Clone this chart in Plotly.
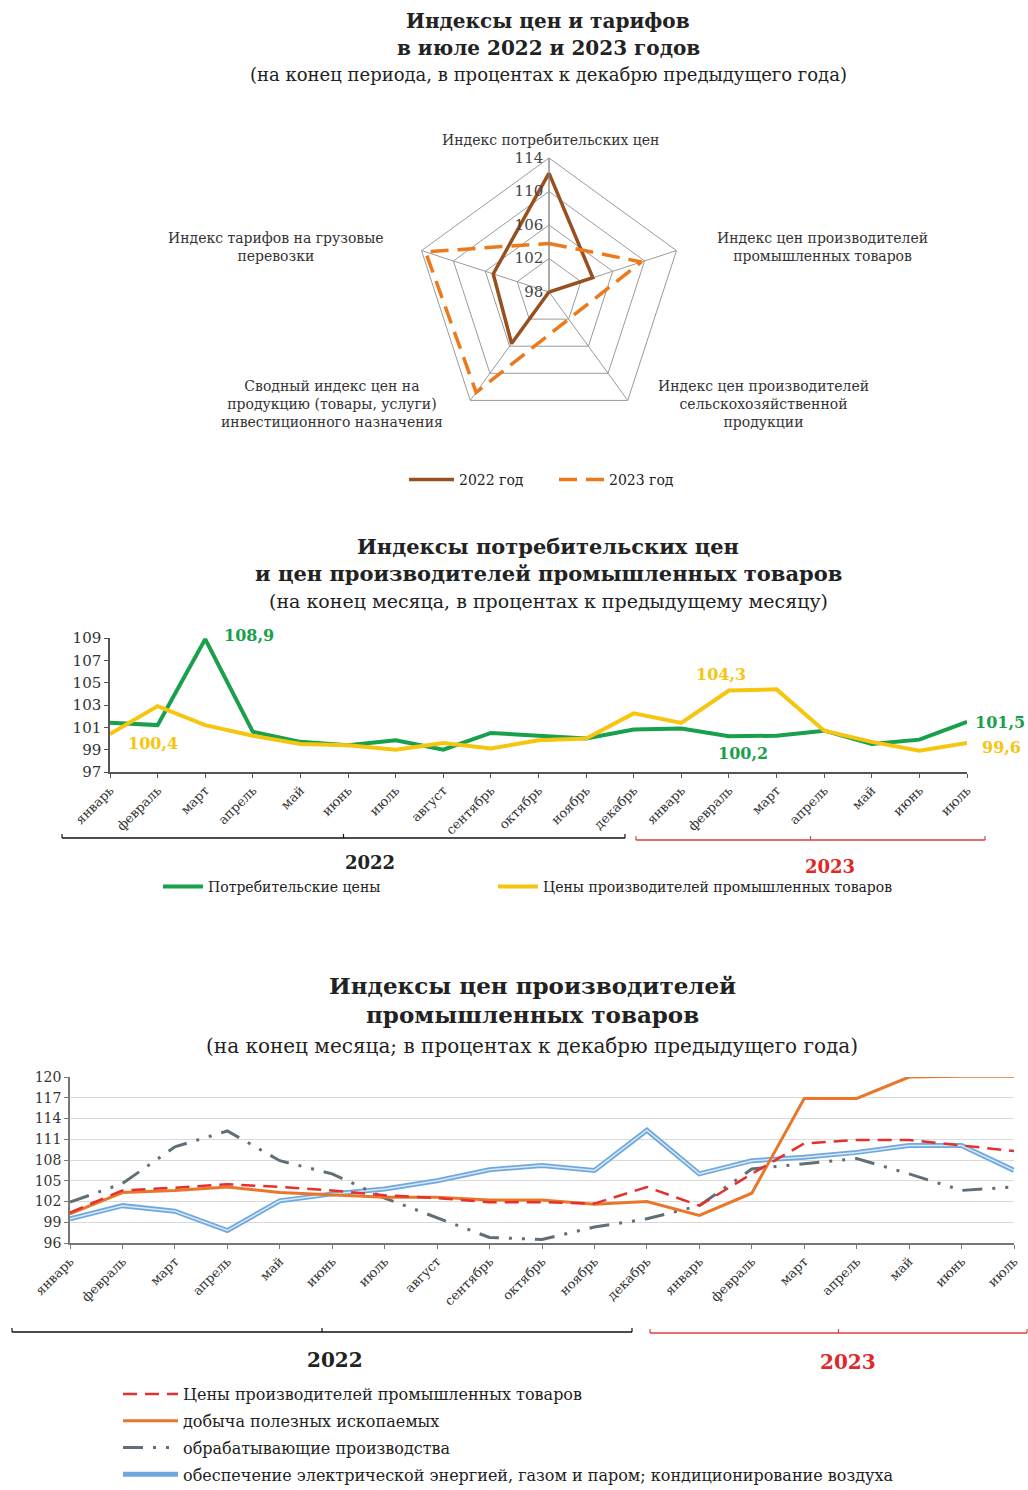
import plotly.graph_objects as go

W, H = 1028, 1490
def X(px): return px / W
def Y(py): return 1 - py / H

SERIF = "DejaVu Serif"

# ---------------- Radar data ----------------
radar_categories = [
    "Индекс потребительских цен",
    "Индекс цен производителей<br>промышленных товаров",
    "Индекс цен производителей<br>сельскохозяйственной<br>продукции",
    "Сводный индекс цен на<br>продукцию (товары, услуги)<br>инвестиционного назначения",
    "Индекс тарифов на грузовые<br>перевозки",
]
radar_2022 = [112.2, 103.5, 98.0, 105.6, 105.0]
radar_2023 = [103.8, 109.6, 102.0, 112.8, 113.5]
radar_ticks = [98, 102, 106, 110, 114]

# ---------------- Monthly chart data ----------------
months = ["январь", "февраль", "март", "апрель", "май", "июнь", "июль", "август",
          "сентябрь", "октябрь", "ноябрь", "декабрь",
          "январь", "февраль", "март", "апрель", "май", "июнь", "июль"]
cpi_mom = [101.4, 101.2, 108.9, 100.6, 99.7, 99.4, 99.85, 99.0, 100.5, 100.25, 100.0, 100.8,
           100.9, 100.2, 100.25, 100.7, 99.5, 99.9, 101.5]
ppi_mom = [100.4, 102.9, 101.2, 100.25, 99.5, 99.4, 99.0, 99.6, 99.1, 99.85, 100.0, 102.25,
           101.4, 104.3, 104.4, 100.7, 99.7, 98.9, 99.6]
mom_ticks = [97, 99, 101, 103, 105, 107, 109]

# ---------------- Cumulative PPI data ----------------
ppi_cum = [100.4, 103.6, 104.0, 104.5, 104.1, 103.6, 102.9, 102.5, 101.9, 101.9, 101.7, 104.1,
           101.4, 106.0, 110.4, 110.9, 110.9, 110.1, 109.3]
mining = [100.2, 103.3, 103.6, 104.1, 103.3, 102.9, 102.6, 102.6, 102.2, 102.2, 101.6, 102.0,
          100.0, 103.2, 116.9, 116.9, 120.0, 120.1, 120.1]
manufacturing = [101.9, 104.6, 109.9, 112.2, 107.9, 106.0, 102.5, 99.7, 96.8, 96.5, 98.3, 99.5,
                 101.4, 106.7, 107.5, 108.2, 106.0, 103.6, 104.1]
electricity = [99.5, 101.4, 100.6, 97.8, 102.1, 103.1, 103.8, 105.0, 106.6, 107.2, 106.5, 112.3,
               106.0, 107.9, 108.4, 109.1, 110.1, 110.1, 106.5]
cum_ticks = [96, 99, 102, 105, 108, 111, 114, 117, 120]

idx = list(range(len(months)))

fig = go.Figure()

# ---------------- Radar traces ----------------
fig.add_trace(go.Scatterpolar(
    r=radar_2022 + radar_2022[:1], theta=radar_categories + radar_categories[:1],
    mode="lines", name="2022 год", line=dict(color="#98501E", width=3.5),
    subplot="polar", legend="legend3"))
fig.add_trace(go.Scatterpolar(
    r=radar_2023 + radar_2023[:1], theta=radar_categories + radar_categories[:1],
    mode="lines", name="2023 год", line=dict(color="#EC7A1C", width=3.5, dash="18px,9px"),
    subplot="polar", legend="legend3"))

# ---------------- Monthly traces ----------------
fig.add_trace(go.Scatter(x=idx, y=cpi_mom, mode="lines", name="Потребительские цены",
                         line=dict(color="#18A04C", width=4), xaxis="x", yaxis="y",
                         legend="legend"))
fig.add_trace(go.Scatter(x=idx, y=ppi_mom, mode="lines",
                         name="Цены производителей промышленных товаров",
                         line=dict(color="#F6C510", width=4), xaxis="x", yaxis="y",
                         legend="legend4"))

# ---------------- Cumulative traces ----------------
fig.add_trace(go.Scatter(x=idx, y=electricity, mode="lines",
                         name="обеспечение электрической энергией, газом и паром; кондиционирование воздуха",
                         line=dict(color="#6FA8DC", width=5), xaxis="x2", yaxis="y2",
                         legend="legend2", legendgroup="e", legendrank=4))
fig.add_trace(go.Scatter(x=idx, y=electricity, mode="lines", showlegend=False,
                         line=dict(color="#D6E8F7", width=1.5), xaxis="x2", yaxis="y2",
                         legend="legend2", legendgroup="e", hoverinfo="skip"))
fig.add_trace(go.Scatter(x=idx, y=manufacturing, mode="lines", name="обрабатывающие производства",
                         line=dict(color="#5F6F78", width=3,
                                   dash="20px,10px,3px,10px,3px,10px"),
                         xaxis="x2", yaxis="y2", legend="legend2", legendgroup="m", legendrank=3))
fig.add_trace(go.Scatter(x=idx, y=mining, mode="lines", name="добыча полезных ископаемых",
                         line=dict(color="#E8772A", width=3), xaxis="x2", yaxis="y2",
                         legend="legend2", legendgroup="o", legendrank=2))
fig.add_trace(go.Scatter(x=idx, y=ppi_cum, mode="lines",
                         name="Цены производителей промышленных товаров",
                         line=dict(color="#E5302C", width=2.5, dash="14px,8px"),
                         xaxis="x2", yaxis="y2", legend="legend2", legendgroup="p", legendrank=1))

annotations = []
def txt(text, px, py, size, bold=False, color="#222", xanchor="center", family=SERIF):
    annotations.append(dict(text=f"<b>{text}</b>" if bold else text, x=X(px), y=Y(py),
                            xref="paper", yref="paper", showarrow=False, xanchor=xanchor,
                            yanchor="middle", align="center",
                            font=dict(family=family, size=size, color=color)))

# Titles
txt("Индексы цен и тарифов", 548, 21, 20, True)
txt("в июле 2022 и 2023 годов", 548, 48, 20, True)
txt("(на конец периода, в процентах к декабрю предыдущего года)", 548, 75, 18)

txt("Индексы потребительских цен", 548, 546, 21, True)
txt("и цен производителей промышленных товаров", 548, 574, 21, True)
txt("(на конец месяца, в процентах к предыдущему месяцу)", 548, 601, 19)

txt("Индексы цен производителей", 532, 985, 23, True)
txt("промышленных товаров", 532, 1015, 23, True)
txt("(на конец месяца; в процентах к декабрю предыдущего года)", 532, 1046, 20)

# Radar category labels (placed beside each vertex)
radar_label_pos = [(550, 140), (822, 247), (763, 404), (332, 404), (276, 247)]
for name, (px, py) in zip(radar_categories, radar_label_pos):
    txt(name, px, py, 14, color="#333")

# Year labels
txt("2022", 370, 862, 18, True)
txt("2023", 830, 866, 18, True, color="#E02828")
txt("2022", 335, 1360, 20, True)
txt("2023", 848, 1362, 20, True, color="#E02828")

# Data labels on monthly chart
def fmt(v): return f"{v:.1f}".replace(".", ",")
data_labels = [
    (cpi_mom, 2, "#18A04C", 44, 4),
    (ppi_mom, 0, "#F6C510", 43, -9),
    (ppi_mom, 13, "#F6C510", -8, 16),
    (cpi_mom, 13, "#18A04C", 14, -17),
    (cpi_mom, 18, "#18A04C", 33, -1),
    (ppi_mom, 18, "#F6C510", 34, -5),
]
for arr, i, col, dx, dy in data_labels:
    annotations.append(dict(text=f"<b>{fmt(arr[i])}</b>", x=i, y=arr[i], xref="x", yref="y",
                            showarrow=False, xshift=dx, yshift=dy,
                            font=dict(family=SERIF, size=16, color=col)))

shapes = []
def hline(x0, x1, y, color, width=1.5):
    shapes.append(dict(type="line", xref="paper", yref="paper", x0=X(x0), x1=X(x1),
                       y0=Y(y), y1=Y(y), line=dict(color=color, width=width)))
def vtick(x, y, color):
    shapes.append(dict(type="line", xref="paper", yref="paper", x0=X(x), x1=X(x),
                       y0=Y(y), y1=Y(y - 4), line=dict(color=color, width=1.2)))

for (a, b, y, c) in [(62, 625, 838, "#111"), (636, 985, 840, "#E04040"),
                     (12, 632, 1332, "#111"), (650, 1027, 1333, "#E04040")]:
    hline(a, b, y, c)
    vtick(a, y, c); vtick(b, y, c); vtick((a + b) / 2, y, c)

leg_font = dict(family=SERIF, size=14, color="#222")

fig.update_layout(
    width=W, height=H, margin=dict(l=0, r=0, t=0, b=0, autoexpand=False),
    paper_bgcolor="white", plot_bgcolor="white",
    font=dict(family=SERIF, color="#222"),
    polar=dict(
        domain=dict(x=[X(549 - 136), X(549 + 136)], y=[Y(292 + 134), Y(292 - 134)]),
        gridshape="linear", bgcolor="white",
        radialaxis=dict(range=[98, 114], tickvals=radar_ticks, angle=90, tickangle=90,
                        side="counterclockwise", showline=True, linecolor="#888",
                        gridcolor="#9a9a9a", gridwidth=1, ticks="",
                        tickfont=dict(family=SERIF, size=15, color="#444")),
        angularaxis=dict(rotation=90, direction="clockwise", linecolor="#9a9a9a",
                         gridcolor="#9a9a9a", ticks="", showticklabels=False),
    ),
    xaxis=dict(domain=[X(110), X(967)], range=[0, 18], tickvals=idx, ticktext=months,
               anchor="y", automargin=False, ticklabeloverflow="allow",
               tickangle=-45, showgrid=False, zeroline=False, showline=True,
               linecolor="#555", linewidth=1.5, ticks="outside", ticklen=4, tickcolor="#555",
               tickfont=dict(family=SERIF, size=13, color="#333")),
    yaxis=dict(domain=[Y(772), Y(638)], range=[97, 109], tickvals=mom_ticks, showgrid=False,
               anchor="x", automargin=False,
               zeroline=False, showline=True, linecolor="#555", linewidth=1.5,
               ticks="outside", ticklen=4, tickcolor="#555",
               tickfont=dict(family=SERIF, size=15, color="#333")),
    xaxis2=dict(domain=[X(70), X(1014)], range=[0, 18], tickvals=idx, ticktext=months,
                anchor="y2", automargin=False, ticklabeloverflow="allow",
                tickangle=-45, showgrid=False, zeroline=False, showline=True,
                linecolor="#777", linewidth=1.5, ticks="outside", ticklen=4, tickcolor="#777",
                tickfont=dict(family=SERIF, size=13, color="#333")),
    yaxis2=dict(domain=[Y(1243), Y(1077)], range=[96, 120], tickvals=cum_ticks,
                anchor="x2", automargin=False,
                showgrid=True, gridcolor="#d9d9d9", gridwidth=1, zeroline=False,
                showline=True, linecolor="#777", linewidth=1.5, ticks="outside", ticklen=4,
                tickcolor="#777", tickfont=dict(family=SERIF, size=14, color="#333")),
    legend=dict(orientation="h", x=X(158), y=Y(887), xanchor="left", yanchor="middle",
                itemwidth=40, font=leg_font, bgcolor="rgba(0,0,0,0)"),
    legend4=dict(orientation="h", x=X(493), y=Y(887), xanchor="left", yanchor="middle",
                 itemwidth=40, font=leg_font, bgcolor="rgba(0,0,0,0)"),
    legend2=dict(orientation="v", x=X(118), y=Y(1377), xanchor="left", yanchor="top",
                 itemwidth=55, tracegroupgap=3,
                 font=dict(family=SERIF, size=16, color="#222"), bgcolor="rgba(0,0,0,0)"),
    legend3=dict(orientation="h", x=X(404), y=Y(480), xanchor="left", yanchor="middle",
                 itemwidth=45, entrywidth=90, entrywidthmode="pixels",
                 font=leg_font, bgcolor="rgba(0,0,0,0)"),
    annotations=annotations, shapes=shapes, showlegend=True,
)

fig.write_html(
    "out.html",
    config={"displayModeBar": False},
    post_script=("document.documentElement.style.margin='0';"
                 "document.body.style.margin='0';document.body.style.padding='0';"
                 "document.documentElement.style.overflow='hidden';"
                 "document.body.style.overflow='hidden';"),
)
